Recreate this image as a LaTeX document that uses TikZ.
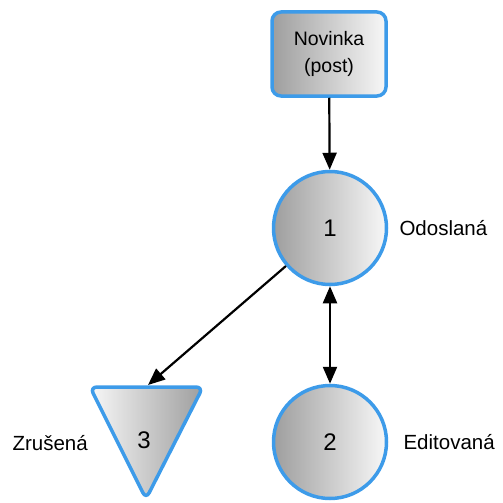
\documentclass[tikz,border=0pt]{standalone}
\usepackage{fontspec}
\setmainfont{Liberation Sans}
\usetikzlibrary{arrows.meta}
\definecolor{bord}{RGB}{61,155,233}
\begin{document}
\begin{tikzpicture}[x=1pt,y=-1pt,
  txt/.style={font=\fontsize{20.5}{26}\selectfont},
  numtxt/.style={font=\fontsize{24}{28}\selectfont},
  state/.style={circle,draw=bord,line width=3.5pt,minimum size=113pt,inner sep=0pt,
    left color=black!38,right color=black!3,numtxt},
  postbox/.style={rectangle,rounded corners=9pt,draw=bord,line width=3.5pt,
    minimum width=114pt,minimum height=84pt,align=center,
    left color=black!38,right color=black!3,font=\fontsize{19.5}{27}\selectfont},
  conn/.style={line width=2.2pt,-{Triangle[length=17pt,width=14pt]}},
  lbl/.style={txt,anchor=west}]
\useasboundingbox (0,0) rectangle (503,503);
\node[postbox] (post) at (329,54) {Novinka\\(post)};
\node[state] (s1) at (330,228) {1};
\node[state] (s2) at (330,442) {2};
\shade[left color=black!3,right color=black!38,draw=bord,line width=3.5pt,rounded corners=7pt]
  (90,387) -- (203,387) -- (146,499) -- cycle;
\node[numtxt] (s3) at (144,440) {3};
\coordinate (s3top) at (148,385);
\node[lbl] (l1) at (396,228) {Odoslaná};
\node[lbl] (l2) at (400,442) {Editovaná};
\node[lbl] (l3) at (9,443) {Zrušená};
\draw[conn] (post) -- (s1);
\draw[conn,{Triangle[length=17pt,width=14pt]}-{Triangle[length=17pt,width=14pt]}] (s1) -- (s2);
\draw[conn] (s1) -- (s3top);
\end{tikzpicture}
\end{document}
